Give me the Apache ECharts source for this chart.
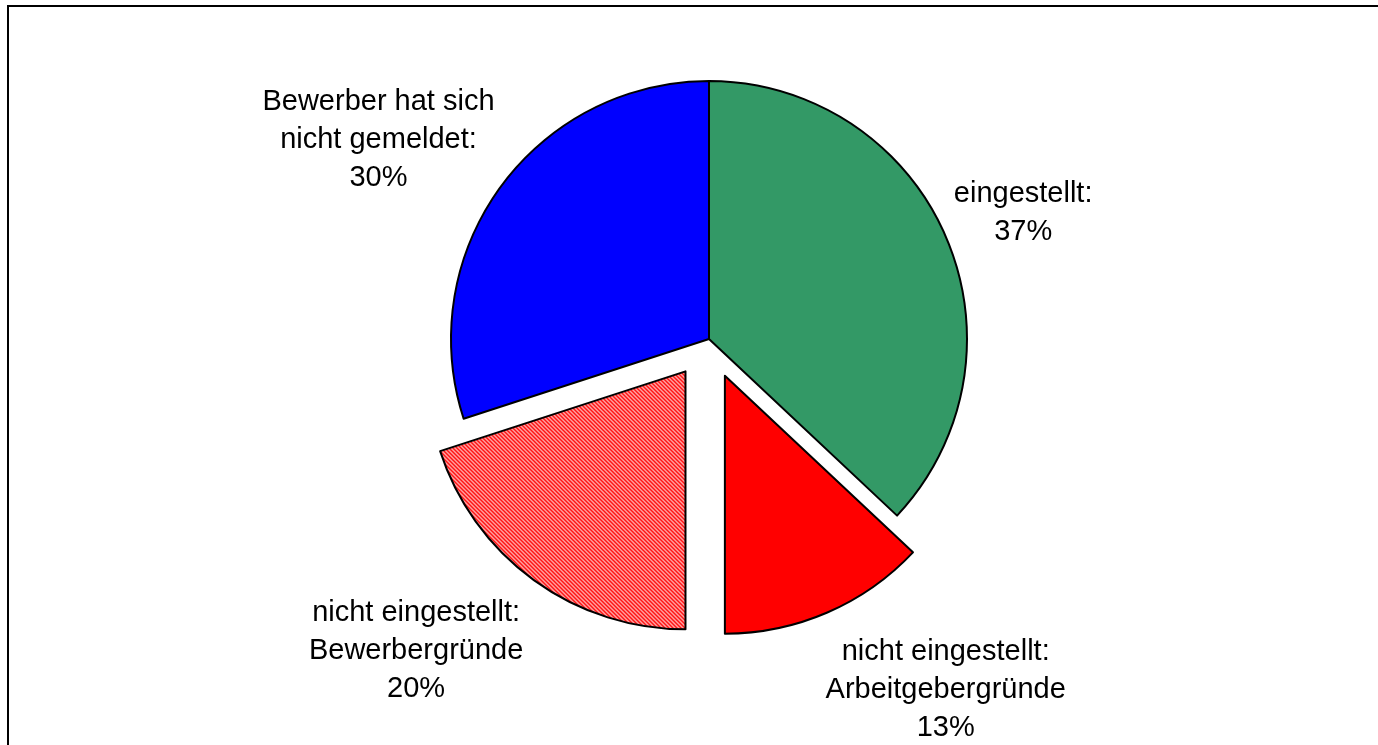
<!DOCTYPE html>
<html>
<head>
<meta charset="utf-8">
<title>Vermittlung</title>
<script src="https://cdn.jsdelivr.net/npm/echarts@6/dist/echarts.min.js"></script>
<style>
  html, body { margin: 0; padding: 0; background: #fff; }
  #chart { width: 1378px; height: 745px; }
</style>
</head>
<body>
<div id="chart"></div>
<script>
// Daten
var categories = ['eingestellt', 'nicht eingestellt: Arbeitgebergründe', 'nicht eingestellt: Bewerbergründe', 'Bewerber hat sich nicht gemeldet']
var labelNames = ['eingestellt:', 'nicht eingestellt:\nArbeitgebergründe', 'nicht eingestellt:\nBewerbergründe', 'Bewerber hat sich\nnicht gemeldet:']
var values = [37, 13, 20, 30]
var exploded = [false, true, true, false]

// Schraffur rot/weiss fuer Bewerbergruende
function hatch () {
  var c = document.createElement('canvas')
  c.width = 4
  c.height = 4
  var ctx = c.getContext('2d')
  var shades = ['#ff0000', '#ff0000', '#ff7070', '#ffffff']
  for (var x = 0; x < 4; x++) {
    for (var y = 0; y < 4; y++) {
      var k = ((x - y) % 4 + 4) % 4
      ctx.fillStyle = shades[k]
      ctx.fillRect(x, y, 1, 1)
    }
  }
  return c
}

var colors = ['#339966', '#ff0000', { image: hatch(), repeat: 'repeat' }, '#0000ff']
// Laenge der (unsichtbaren) Beschriftungslinien, steuert die Lage der Texte
var lineLen = [[60, -52], [84, 80], [88, 61], [80, -64]]

var chart = echarts.init(document.getElementById('chart'))

var data = categories.map(function (name, i) {
  return {
    name: name,
    value: values[i],
    selected: exploded[i],
    itemStyle: { color: colors[i] },
    labelLine: { show: false, length: lineLen[i][0], length2: lineLen[i][1] }
  }
})

var option = {
  animation: false,
  backgroundColor: '#fff',
  graphic: [{
    type: 'rect',
    silent: true,
    shape: { x: 8, y: 6, width: 1400, height: 800 },
    style: { fill: 'none', stroke: '#000', lineWidth: 2 }
  }],
  series: [{
    type: 'pie',
    center: [709, 339],
    radius: 258,
    startAngle: 90,
    clockwise: true,
    selectedMode: 'multiple',
    selectedOffset: 40,
    avoidLabelOverlap: false,
    emphasis: { disabled: true },
    select: { itemStyle: { borderColor: '#000', borderWidth: 2 } },
    itemStyle: { borderColor: '#000', borderWidth: 2 },
    label: {
      show: true,
      position: 'outside',
      color: '#000',
      fontFamily: 'Liberation Sans, Arial, sans-serif',
      fontSize: 29,
      lineHeight: 38,
      formatter: function (p) {
        return labelNames[p.dataIndex] + '\n' + Math.round(p.percent) + '%'
      }
    },
    labelLayout: function (p) {
      return {
        x: p.labelRect.x + p.labelRect.width / 2,
        y: p.labelRect.y + p.labelRect.height / 2,
        align: 'center',
        verticalAlign: 'middle'
      }
    },
    data: data
  }]
}
chart.setOption(option)
</script>
</body>
</html>
